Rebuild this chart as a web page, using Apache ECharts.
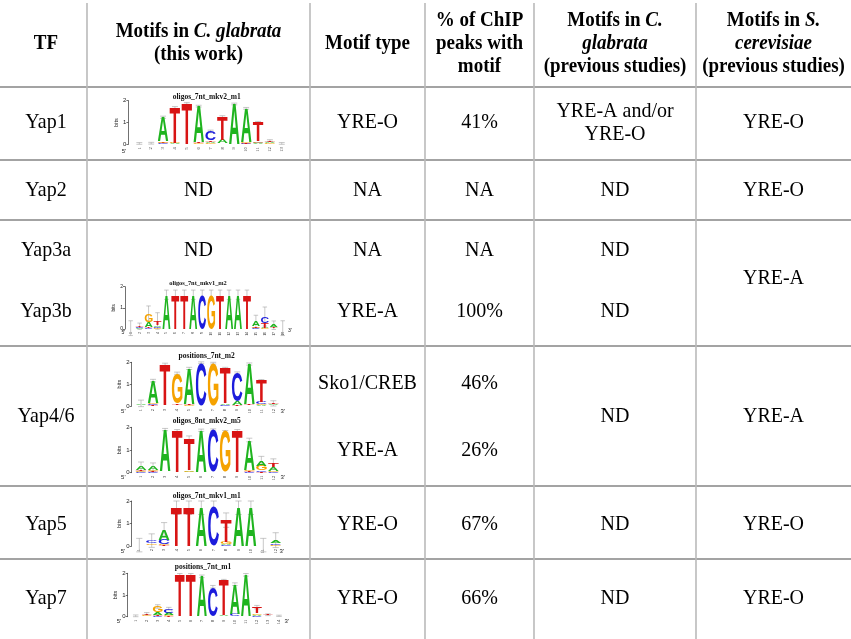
<!DOCTYPE html>
<html>
<head>
<meta charset="utf-8">
<script src="https://cdn.jsdelivr.net/npm/echarts@6/dist/echarts.min.js"></script>
<style>html,body{margin:0;padding:0;background:#fff;}#c{width:851px;height:639px;}</style>
</head>
<body>
<div id="c"></div>
<script>
// ---------------- table texts ----------------
const headerLines = [
  ['TF'],
  ['Motifs in {i|C. glabrata}', '(this work)'],
  ['Motif type'],
  ['% of ChIP', 'peaks with', 'motif'],
  ['Motifs in {i|C.}', '{i|glabrata}', '(previous studies)'],
  ['Motifs in {i|S.}', '{i|cerevisiae}', '(previous studies)']
];
const tfNames = ['Yap1', 'Yap2', 'Yap3a', 'Yap3b', 'Yap4/6', 'Yap5', 'Yap7'];
const motifsThisWorkText = ['ND', 'ND'];            // Yap2, Yap3a
const motifTypes = ['YRE-O', 'NA', 'NA', 'YRE-A', 'Sko1/CREB', 'YRE-A', 'YRE-O', 'YRE-O'];
const chipPeaks = ['41%', 'NA', 'NA', '100%', '46%', '26%', '67%', '66%'];
const prevGlabrata = ['YRE-A and/or\nYRE-O', 'ND', 'ND', 'ND', 'ND', 'ND', 'ND'];
const prevCerevisiae = ['YRE-O', 'YRE-O', 'YRE-A', 'YRE-A', 'YRE-O', 'YRE-O'];

// ---------------- sequence logos: bits per position [A, C, G, T] ----------------
const logoTitles = ['oligos_7nt_mkv2_m1', 'oligos_7nt_mkv1_m2', 'positions_7nt_m2',
                    'oligos_8nt_mkv2_m5', 'oligos_7nt_mkv1_m1', 'positions_7nt_m1'];
const yap1Logo = [
  [0.01,0.01,0.01,0.01],[0.01,0.01,0.01,0.02],[1.10,0.04,0.06,0.04],[0.03,0.02,0.03,1.60],
  [0.01,0.01,0.01,1.85],[1.65,0.02,0.04,0.04],[0.06,0.40,0.05,0.08],[0.17,0.02,0.02,1.05],
  [1.82,0.01,0.01,0.01],[1.55,0.03,0.04,0.03],[0.04,0.04,0.06,0.86],[0.05,0.02,0.03,0.07],
  [0.01,0.01,0.01,0.01]
];
const yap1Err = [0.04,0.04,0.05,0.05,0.04,0.04,0.06,0.05,0.04,0.04,0.05,0.04,0.04];
const yap3bLogo = [
  [0.01,0.01,0.01,0.01],[0.03,0.03,0.02,0.05],[0.25,0.04,0.38,0.05],[0.07,0.06,0.05,0.20],
  [1.62,0.00,0.00,0.00],[0.00,0.00,0.00,1.62],[0.00,0.00,0.00,1.62],[1.62,0.00,0.00,0.00],
  [0.00,1.62,0.00,0.00],[0.00,0.00,1.62,0.00],[0.00,0.00,0.00,1.62],[1.62,0.00,0.00,0.00],
  [1.62,0.00,0.00,0.00],[0.00,0.00,0.00,1.62],[0.22,0.03,0.04,0.06],[0.04,0.30,0.03,0.22],
  [0.10,0.02,0.02,0.04],[0.01,0.01,0.01,0.01]
];
const yap3bErr = [0.35,0.15,0.37,0.39,0.22,0.22,0.22,0.22,0.22,0.22,0.22,0.22,0.22,0.22,0.30,0.45,0.20,0.35];
const yap46aLogo = [
  [0.06,0.02,0.02,0.02],[1.00,0.05,0.08,0.03],[0.02,0.02,0.02,1.85],[0.02,0.02,1.38,0.08],
  [1.62,0.02,0.04,0.04],[0.01,1.95,0.01,0.01],[0.01,0.01,1.93,0.01],[0.06,0.04,0.02,1.60],
  [0.17,1.30,0.01,0.03],[1.85,0.02,0.02,0.03],[0.03,0.10,0.04,0.98],[0.03,0.02,0.02,0.05]
];
const yap46aErr = [0.15,0.06,0.05,0.05,0.05,0.04,0.04,0.05,0.05,0.05,0.06,0.12];
const yap46bLogo = [
  [0.14,0.03,0.04,0.06],[0.15,0.03,0.04,0.03],[1.84,0.02,0.02,0.02],[0.01,0.01,0.01,1.82],
  [0.03,0.02,0.06,1.38],[1.84,0.01,0.01,0.01],[0.01,1.85,0.01,0.01],[0.01,0.01,1.78,0.01],
  [0.01,0.01,0.01,1.82],[1.32,0.03,0.05,0.04],[0.22,0.06,0.20,0.04],[0.15,0.03,0.05,0.16]
];
const yap46bErr = [0.20,0.18,0.05,0.05,0.13,0.05,0.05,0.05,0.05,0.08,0.20,0.22];
const yap5Logo = [
  [0.01,0.01,0.01,0.01],[0.02,0.12,0.08,0.02],[0.47,0.20,0.04,0.03],[0.00,0.00,0.00,1.70],
  [0.00,0.00,0.00,1.70],[1.70,0.00,0.00,0.00],[0.00,1.75,0.00,0.00],[0.05,0.03,0.12,0.95],
  [1.70,0.00,0.00,0.00],[1.70,0.00,0.00,0.00],[0.01,0.01,0.01,0.01],[0.12,0.08,0.04,0.02]
];
const yap5Err = [0.30,0.30,0.30,0.30,0.30,0.30,0.25,0.32,0.30,0.30,0.30,0.33];
const yap7Logo = [
  [0.01,0.01,0.01,0.01],[0.02,0.02,0.03,0.07],[0.12,0.04,0.27,0.04],[0.10,0.20,0.04,0.03],
  [0.01,0.01,0.01,1.90],[0.01,0.01,0.01,1.90],[1.83,0.01,0.01,0.01],[0.01,1.35,0.01,0.01],
  [0.06,0.01,0.01,1.58],[1.38,0.10,0.01,0.01],[1.90,0.01,0.01,0.01],[0.05,0.03,0.08,0.28],
  [0.02,0.02,0.02,0.03],[0.01,0.01,0.01,0.01]
];
const yap7Err = [0.04,0.05,0.08,0.06,0.06,0.06,0.06,0.06,0.06,0.06,0.06,0.08,0.04,0.03];

// ---------------- layout / styles ----------------
const LETTERS = ['A', 'C', 'G', 'T'];
const LETTER_COLORS = ['#1fb41f', '#1c1cdc', '#f5a200', '#d81414'];
const LOGO_FONT = 'bold 100px "Liberation Sans"';
const SERIF = '"Liberation Serif", "Times New Roman", serif';

const logos = [
  {data: yap1Logo,   err: yap1Err,   grid: {left: 133.4, top: 100.7, width: 154.3, height: 43.6}, off: 5,   title: [206.7, 97],    five: [124, 151],   three: null, fs: 1},
  {data: yap3bLogo,  err: yap3bErr,  grid: {left: 126.2, top: 286.7, width: 161,   height: 42.3}, off: 1.2, title: [198, 283.3],   five: [123.3, 333], three: [290, 331], fs: 0.85},
  {data: yap46aLogo, err: yap46aErr, grid: {left: 135,   top: 362.3, width: 144.4, height: 43.7}, off: 3.3, title: [206.7, 356],   five: [123.3, 411.7], three: [282.7, 411.7], fs: 1},
  {data: yap46bLogo, err: yap46bErr, grid: {left: 135,   top: 427.3, width: 144.4, height: 45.4}, off: 3.3, title: [206.7, 421],   five: [123.3, 477.3], three: [282.7, 477.3], fs: 1},
  {data: yap5Logo,   err: yap5Err,   grid: {left: 133.1, top: 501,   width: 148.8, height: 45},   off: 1.4, title: [206.7, 495.7], five: [123, 551.7],   three: [281.7, 551.7], fs: 1},
  {data: yap7Logo,   err: yap7Err,   grid: {left: 130.2, top: 573.3, width: 154.3, height: 43.4}, off: 2.5, title: [203, 566.7],   five: [119, 621.7],   three: [286.7, 621.7], fs: 1}
];

// glyph metrics for fitting letters into their boxes
const METRICS = LETTERS.map(function (ch) {
  const ctx = document.createElement('canvas').getContext('2d');
  ctx.font = LOGO_FONT; ctx.textBaseline = 'middle'; ctx.textAlign = 'center';
  const m = ctx.measureText(ch);
  if (m.actualBoundingBoxAscent === undefined) return {a: 36, d: 36, l: 36, r: 36};
  return {a: m.actualBoundingBoxAscent, d: m.actualBoundingBoxDescent,
          l: m.actualBoundingBoxLeft, r: m.actualBoundingBoxRight};
});

function renderLetter(params, api) {
  const pos = api.value(0), y0 = api.value(1), y1 = api.value(2), li = api.value(3);
  const p0 = api.coord([pos, y0]), p1 = api.coord([pos, y1]);
  const bw = api.size([1, 0])[0] * 0.88;
  const h = p0[1] - p1[1];
  if (h <= 0.05) return null;
  const m = METRICS[li];
  const sx = bw / (m.l + m.r), sy = h / (m.a + m.d);
  return {
    type: 'text', silent: true,
    x: p0[0] - bw / 2 + m.l * sx, y: p1[1] + m.a * sy,
    scaleX: sx, scaleY: sy,
    style: {text: LETTERS[li], font: LOGO_FONT, fill: LETTER_COLORS[li],
            align: 'center', verticalAlign: 'middle', textAlign: 'center', textVerticalAlign: 'middle'}
  };
}
function renderErr(params, api) {
  const pos = api.value(0), top = api.value(1), e = api.value(2);
  const hi = api.coord([pos, top + e]), lo = api.coord([pos, top - e]);
  const cw = api.size([1, 0])[0] * 0.25;
  const st = {stroke: '#a3a3a3', lineWidth: 0.6};
  return {type: 'group', silent: true, children: [
    {type: 'line', shape: {x1: hi[0], y1: hi[1], x2: lo[0], y2: lo[1]}, style: st},
    {type: 'line', shape: {x1: hi[0] - cw, y1: hi[1], x2: hi[0] + cw, y2: hi[1]}, style: st},
    {type: 'line', shape: {x1: lo[0] - cw, y1: lo[1], x2: lo[0] + cw, y2: lo[1]}, style: st}
  ]};
}

const grids = [], xAxes = [], yAxes = [], series = [], graphics = [];
logos.forEach(function (L, k) {
  grids.push(Object.assign({}, L.grid));
  xAxes.push({type: 'category', gridIndex: k, data: L.data.map(function (_, i) { return String(i + 1); }),
    boundaryGap: true, axisLine: {show: false}, axisTick: {show: false}, splitLine: {show: false},
    axisLabel: {interval: 0, rotate: 90, fontSize: 4.5 * L.fs, margin: 3, color: '#222', fontFamily: SERIF}});
  yAxes.push({type: 'value', gridIndex: k, min: 0, max: 2, interval: 1, offset: L.off,
    name: 'bits', nameLocation: 'middle', nameRotate: 90, nameGap: 7 * L.fs,
    nameTextStyle: {fontSize: 5.5 * L.fs, color: '#222', fontFamily: 'Liberation Sans'},
    axisLine: {show: true, lineStyle: {color: '#333', width: 0.7}},
    axisTick: {show: true, length: 2, lineStyle: {color: '#333', width: 0.7}},
    splitLine: {show: false},
    axisLabel: {fontSize: 6 * L.fs, margin: 2, color: '#222', fontFamily: 'Liberation Sans'}});
  const letterData = [], errData = [];
  L.data.forEach(function (vals, i) {
    const order = [0, 1, 2, 3].sort(function (a, b) { return vals[a] - vals[b]; });
    let acc = 0;
    order.forEach(function (li) {
      if (vals[li] > 0) { letterData.push([i, acc, acc + vals[li], li]); acc += vals[li]; }
    });
    errData.push([i, acc, L.err[i]]);
  });
  series.push({type: 'custom', xAxisIndex: k, yAxisIndex: k, data: errData, renderItem: renderErr,
    encode: {x: 0, y: 1}, clip: false, z: 1, silent: true});
  series.push({type: 'custom', xAxisIndex: k, yAxisIndex: k, data: letterData, renderItem: renderLetter,
    encode: {x: 0, y: [1, 2]}, clip: false, z: 2, silent: true});
  graphics.push({type: 'text', x: L.title[0], y: L.title[1], silent: true,
    style: {text: logoTitles[k], font: 'bold ' + (7.5 * L.fs) + 'px ' + SERIF, fill: '#111',
            align: 'center', verticalAlign: 'middle', textAlign: 'center', textVerticalAlign: 'middle'}});
  const primeFont = (6 * L.fs) + 'px "Liberation Sans"';
  graphics.push({type: 'text', x: L.five[0], y: L.five[1], silent: true,
    style: {text: "5'", font: primeFont, fill: '#222', align: 'center', verticalAlign: 'middle'}});
  if (L.three) graphics.push({type: 'text', x: L.three[0], y: L.three[1], silent: true,
    style: {text: "3'", font: primeFont, fill: '#222', align: 'center', verticalAlign: 'middle'}});
});

// ---------------- table ----------------
const colX = [46, 198.5, 367.5, 479.5, 615, 773.5];
const vLines = [87, 310, 425, 534, 696];
const hLines = [87, 160, 220, 346, 486, 559];
const BODY_FONT = '20px ' + SERIF;
const HEAD_FONT = 'bold 19px ' + SERIF;
const TEXT_STRETCH = 1.1;

hLines.forEach(function (y) {
  graphics.push({type: 'line', silent: true, shape: {x1: 0, y1: y, x2: 851, y2: y},
    style: {stroke: '#a3a3a3', lineWidth: 2}});
});
vLines.forEach(function (x) {
  graphics.push({type: 'line', silent: true, shape: {x1: x, y1: 3, x2: x, y2: 639},
    style: {stroke: '#bababa', lineWidth: 1.6}});
});

function addText(x, y, text, font, lh) {
  const lines = text.split('\n');
  lines.forEach(function (ln, i) {
    graphics.push({type: 'text', silent: true, x: x, y: y + (i - (lines.length - 1) / 2) * lh,
      scaleY: TEXT_STRETCH,
      style: {text: ln, font: font, fill: '#000',
              rich: {i: {font: 'italic ' + font, fill: '#000'}},
              align: 'center', verticalAlign: 'middle', textAlign: 'center', textVerticalAlign: 'middle'}});
  });
}
headerLines.forEach(function (lines, c) {
  addText(colX[c], 43.5, lines.join('\n'), HEAD_FONT, 23);
});
const tfY = [122.5, 190, 250, 311.5, 416, 524, 598];
tfNames.forEach(function (t, i) { addText(colX[0], tfY[i], t, BODY_FONT, 23); });
const motifTextY = [190, 250];
motifsThisWorkText.forEach(function (t, i) { addText(colX[1], motifTextY[i], t, BODY_FONT, 23); });
const slotY = [122.5, 190, 250, 311.5, 383, 450, 524, 598];
motifTypes.forEach(function (t, i) { addText(colX[2], slotY[i], t, BODY_FONT, 23); });
chipPeaks.forEach(function (t, i) { addText(colX[3], slotY[i], t, BODY_FONT, 23); });
const prevGY = [122.5, 190, 250, 311.5, 416, 524, 598];
prevGlabrata.forEach(function (t, i) { addText(colX[4], prevGY[i], t, BODY_FONT, 23); });
const prevSY = [122.5, 190, 278, 416, 524, 598];
prevCerevisiae.forEach(function (t, i) { addText(colX[5], prevSY[i], t, BODY_FONT, 23); });

const chart = echarts.init(document.getElementById('c'), null, {renderer: 'canvas'});
chart.setOption({
  animation: false,
  backgroundColor: '#ffffff',
  grid: grids, xAxis: xAxes, yAxis: yAxes, series: series,
  graphic: {elements: graphics}
});
</script>
</body>
</html>
